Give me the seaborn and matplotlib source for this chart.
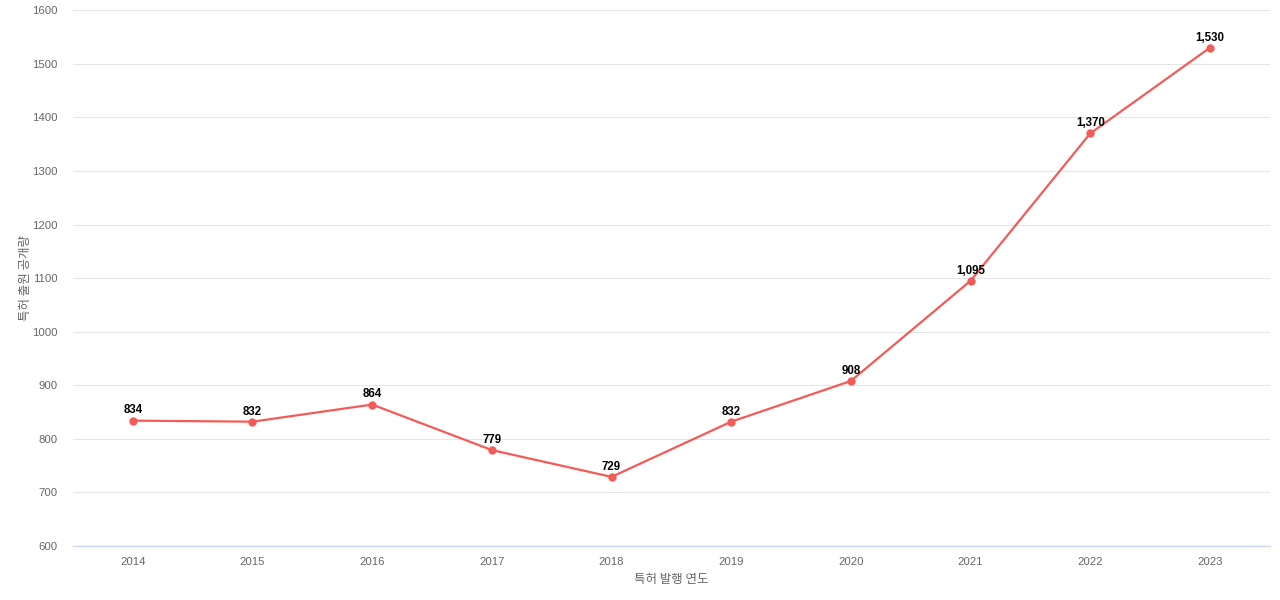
import matplotlib
matplotlib.use("Agg")
import matplotlib.pyplot as plt
import seaborn as sns
import pandas as pd

years = ["2014", "2015", "2016", "2017", "2018", "2019", "2020", "2021", "2022", "2023"]
counts = [834, 832, 864, 779, 729, 832, 908, 1095, 1370, 1530]
y_ticks = [600, 700, 800, 900, 1000, 1100, 1200, 1300, 1400, 1500, 1600]

sns.set_theme(style="white")
plt.rcParams['font.family'] = ['Liberation Sans', 'Noto Sans CJK KR', 'DejaVu Sans']

df = pd.DataFrame({"year": years, "count": counts})

fig = plt.figure(figsize=(12.8, 6), dpi=100)
ax = fig.add_axes([0.057, 0.09, 0.935, 0.893])

color = "#f25b57"
sns.lineplot(data=df, x="year", y="count", ax=ax, color=color, linewidth=1.6,
             marker="o", markersize=6, markeredgewidth=0, sort=False)

for i, v in enumerate(counts):
    ax.annotate(f"{v:,}", (i, v), xytext=(0, 3), textcoords="offset points",
                ha="center", va="bottom", fontsize=8.3, fontweight="bold", color="black")

ax.set_xlim(-0.5, len(years) - 0.5)
ax.set_ylim(600, 1600)
ax.set_yticks(y_ticks)
ax.set_yticklabels([str(t) for t in y_ticks])
ax.yaxis.grid(True, color="#e6e6e6", linewidth=0.8)
ax.xaxis.grid(False)
for s in ["top", "right", "left"]:
    ax.spines[s].set_visible(False)
ax.spines["bottom"].set_color("#ccd6eb")
ax.spines["bottom"].set_linewidth(1)
ax.tick_params(axis="both", length=0, labelsize=8.2, colors="#666666")
ax.tick_params(axis="y", pad=11)
ax.tick_params(axis="x", pad=8)

ax.set_xlabel("특허 발행 연도", fontsize=9, color="#666666", labelpad=4,
              family=['Noto Sans CJK KR', 'DejaVu Sans'])
ax.set_ylabel("특허 출원 공개량", fontsize=9, color="#666666", labelpad=0,
              family=['Noto Sans CJK KR', 'DejaVu Sans'])

fig.savefig("out.png", dpi=100)
